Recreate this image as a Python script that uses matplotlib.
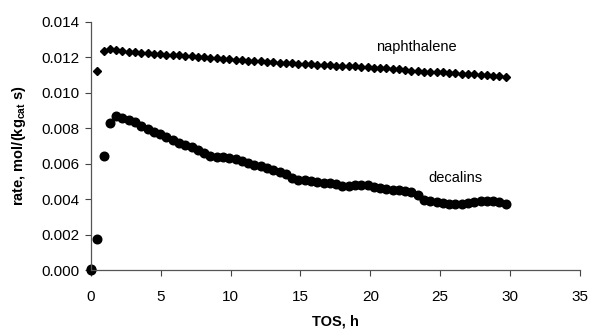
import matplotlib
matplotlib.use("Agg")
import matplotlib.pyplot as plt

plt.rcParams['font.family'] = ['Liberation Sans', 'DejaVu Sans']
plt.rcParams['mathtext.fontset'] = 'custom'
plt.rcParams['mathtext.rm'] = 'Liberation Sans'
plt.rcParams['mathtext.bf'] = 'Liberation Sans:bold'

# time on stream, h
tos_naph = [0.45, 0.9, 1.35, 1.8, 2.25, 2.7, 3.15, 3.6, 4.05, 4.5, 4.95, 5.4, 5.85, 6.3,
            6.75, 7.2, 7.65, 8.1, 8.55, 9.0, 9.45, 9.9, 10.35, 10.8, 11.25, 11.7, 12.15,
            12.6, 13.05, 13.5, 13.95, 14.4, 14.85, 15.3, 15.75, 16.2, 16.65, 17.1, 17.55,
            18.0, 18.45, 18.9, 19.35, 19.8, 20.25, 20.7, 21.15, 21.6, 22.05, 22.5, 22.95,
            23.4, 23.85, 24.3, 24.75, 25.2, 25.65, 26.1, 26.55, 27.0, 27.45, 27.9, 28.35,
            28.8, 29.25, 29.7]
naphthalene = [0.01125, 0.01237, 0.01247, 0.01243, 0.01236, 0.01232, 0.01228, 0.01225,
               0.01221, 0.01218, 0.01216, 0.01214, 0.01212, 0.01210, 0.01208, 0.01205,
               0.01202, 0.01199, 0.01196, 0.01193, 0.01190, 0.01188, 0.01185, 0.01183,
               0.01181, 0.01178, 0.01176, 0.01174, 0.01172, 0.01170, 0.01168, 0.01166,
               0.01164, 0.01162, 0.01160, 0.01158, 0.01157, 0.01155, 0.01153, 0.01151,
               0.01149, 0.01148, 0.01146, 0.01144, 0.01142, 0.01140, 0.01137, 0.01135,
               0.01132, 0.01128, 0.01124, 0.01120, 0.01115, 0.01117, 0.01116, 0.01114,
               0.01112, 0.01110, 0.01108, 0.01106, 0.01104, 0.01102, 0.01099, 0.01096,
               0.01092, 0.01087]

tos_dec = [0.0, 0.0] + tos_naph
decalins = [0.0000, 0.00008, 0.00175, 0.00642, 0.00829, 0.00868, 0.00858, 0.00848, 0.00835,
            0.00815, 0.00795, 0.00780, 0.00768, 0.00752, 0.00735, 0.00718, 0.00705,
            0.00692, 0.00680, 0.00662, 0.00645, 0.00640, 0.00638, 0.00632, 0.00625,
            0.00618, 0.00605, 0.00595, 0.00585, 0.00575, 0.00565, 0.00555, 0.00545,
            0.00520, 0.00510, 0.00506, 0.00502, 0.00498, 0.00494, 0.00490, 0.00484,
            0.00475, 0.00475, 0.00482, 0.00483, 0.00478, 0.00470, 0.00465, 0.00460,
            0.00455, 0.00452, 0.00448, 0.00442, 0.00425, 0.00398, 0.00388, 0.00385,
            0.00380, 0.00375, 0.00372, 0.00374, 0.00378, 0.00385, 0.00390, 0.00390,
            0.00388, 0.00382, 0.00372]

x_ticks = [0, 5, 10, 15, 20, 25, 30, 35]
y_ticks = [0.000, 0.002, 0.004, 0.006, 0.008, 0.010, 0.012, 0.014]

fig = plt.figure(figsize=(5.91, 3.31), dpi=100)
ax = fig.add_axes([0.154, 0.1834, 0.827, 0.751])

ax.plot(tos_naph, naphthalene, linestyle='none', marker='D', markersize=4.5,
        color='black', clip_on=False)
ax.plot(tos_dec, decalins, linestyle='none', marker='o', markersize=6.2,
        color='black', clip_on=False)

ax.set_xlim(0, 35)
ax.set_ylim(0, 0.014)
ax.set_xticks(x_ticks)
ax.set_yticks(y_ticks)
ax.set_yticklabels([f"{v:.3f}" for v in y_ticks])
ax.tick_params(direction='out', length=4, width=0.8, color='#444444',
               labelsize=11)
ax.tick_params(axis='x', pad=10)
ax.tick_params(axis='y', pad=4)

for s in ['top', 'right']:
    ax.spines[s].set_visible(False)
for s in ['left', 'bottom']:
    ax.spines[s].set_color('#555555')
    ax.spines[s].set_linewidth(0.9)

ax.text(23.3, 0.01255, 'naphthalene', fontsize=10.5, ha='center', va='center')
ax.text(26.1, 0.00519, 'decalins', fontsize=10.5, ha='center', va='center')

ax.set_xlabel('TOS, h', fontsize=10.5, fontweight='bold', labelpad=8)
ax.set_ylabel(r'rate, mol/(kg$_{\mathbf{cat}}$ s)', fontsize=10.5, fontweight='bold',
              labelpad=10)

fig.savefig('out.png', dpi=100)
